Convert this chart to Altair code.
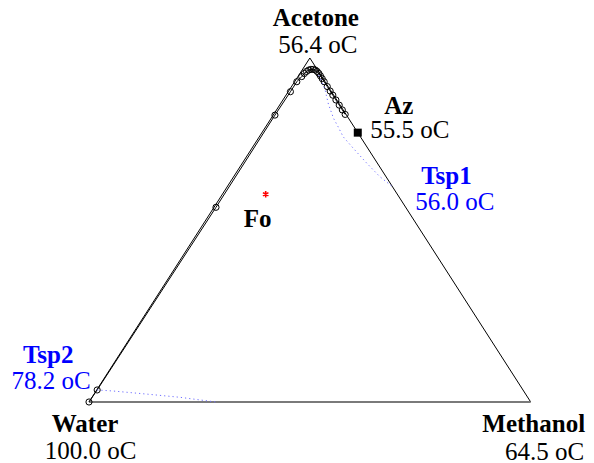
import altair as alt
import pandas as pd

# Pure components (ternary composition: xA = acetone, xM = methanol)
comp_names = ["Water", "Methanol", "Acetone"]
comp_temps = ["100.0 oC", "64.5 oC", "56.4 oC"]
comp_xA = [0.0, 0.0, 1.0]
comp_xM = [0.0, 1.0, 0.0]

# Residue curve points (circles)
rc_xA = [0.0, 0.035, 0.566, 0.834, 0.902, 0.931, 0.946, 0.955, 0.961, 0.965, 0.967,
         0.967, 0.965, 0.961, 0.955, 0.948, 0.940, 0.931, 0.917, 0.904, 0.892, 0.878,
         0.863, 0.849, 0.836]
rc_xM = [0.0, 0.001, 0.0045, 0.004, 0.005, 0.005, 0.0086, 0.010, 0.012, 0.015, 0.019,
         0.024, 0.030, 0.036, 0.043, 0.050, 0.058, 0.067, 0.081, 0.094, 0.106, 0.120,
         0.135, 0.149, 0.162]

# Dotted boundary 1 (towards Tsp1)
b1_xA = [0.950, 0.930, 0.910, 0.866, 0.825, 0.800, 0.771, 0.7375, 0.694, 0.655, 0.626]
b1_xM = [0.045, 0.062, 0.079, 0.109, 0.141, 0.164, 0.190, 0.2296, 0.282, 0.331, 0.374]

# Dotted boundary 2 (from Tsp2)
b2_xA = [0.035, 0.032, 0.023, 0.0137, 0.0]
b2_xM = [0.001, 0.038, 0.119, 0.199, 0.287]

# Special points
sp_names = ["Az", "Tsp1", "Tsp2", "Fo"]
sp_temps = ["55.5 oC", "56.0 oC", "78.2 oC", ""]
sp_xA = [0.783, 0.626, 0.035, 0.604]
sp_xM = [0.217, 0.374, 0.001, 0.098]

W, H = 578, 455
xscale = alt.Scale(domain=[-0.18338, 1.12520], nice=False, zero=False)
yscale = alt.Scale(domain=[-0.17733, 1.14535], nice=False, zero=False)
X = alt.X("xd:Q", scale=xscale, axis=None)
Y = alt.Y("xA:Q", scale=yscale, axis=None)


def base(df):
    return alt.Chart(df).transform_calculate(xd="datum.xM + datum.xA / 2")


def pt(xA, xM, **extra):
    d = {"xA": [xA], "xM": [xM]}
    for k, v in extra.items():
        d[k] = [v]
    return pd.DataFrame(d)


FONT = "Liberation Serif"
FS = 25

layers = []

# triangle edges
tri = pd.DataFrame({"xA": [comp_xA[0], comp_xA[2], comp_xA[1]],
                    "xM": [comp_xM[0], comp_xM[2], comp_xM[1]],
                    "i": [0, 1, 2]})
layers.append(base(tri).mark_line(color="black", strokeWidth=1).encode(x=X, y=Y, order="i:Q"))
bottom = pd.DataFrame({"xA": [comp_xA[0], comp_xA[1]], "xM": [comp_xM[0], comp_xM[1]], "i": [0, 1]})
layers.append(base(bottom).mark_line(color="#7a7a7a", strokeWidth=2).encode(x=X, y=Y, order="i:Q"))

# residue curve
rc = pd.DataFrame({"xA": rc_xA, "xM": rc_xM, "i": list(range(len(rc_xA)))})
layers.append(base(rc).mark_line(color="black", strokeWidth=1).encode(x=X, y=Y, order="i:Q"))
layers.append(base(rc).mark_point(shape="circle", filled=False, color="black", size=38,
                                  strokeWidth=1, opacity=1).encode(x=X, y=Y))

# dotted boundaries
b1 = pd.DataFrame({"xA": b1_xA, "xM": b1_xM, "i": list(range(len(b1_xA)))})
b2 = pd.DataFrame({"xA": b2_xA, "xM": b2_xM, "i": list(range(len(b2_xA)))})
for b in (b1, b2):
    layers.append(base(b).mark_line(color="#6f6fff", strokeWidth=1, strokeDash=[1.2, 3]).encode(
        x=X, y=Y, order="i:Q"))

# Az square
layers.append(base(pt(sp_xA[0], sp_xM[0])).mark_square(color="black", size=64, opacity=1).encode(x=X, y=Y))
# Fo asterisk
ast = "M0,-1L0,1M-0.87,-0.5L0.87,0.5M-0.87,0.5L0.87,-0.5"
layers.append(base(pt(sp_xA[3], sp_xM[3])).mark_point(shape=ast, filled=False, color="#ff0000", size=40,
                                                      strokeWidth=1.6, opacity=1).encode(x=X, y=Y))


def label(df, field, dx, dy, bold, color):
    return base(df).mark_text(font=FONT, fontSize=FS, fontWeight="bold" if bold else "normal",
                              color=color, align="center", baseline="alphabetic",
                              dx=dx, dy=dy).encode(x=X, y=Y, text=f"{field}:N")


offsets_comp = {
    "Water": ((-4, 30), (1.5, 57)),
    "Methanol": ((3, 30), (14, 58)),
    "Acetone": ((6, -32), (8, -5)),
}
for i, n in enumerate(comp_names):
    df = pt(comp_xA[i], comp_xM[i], name=n, temp=comp_temps[i])
    (ndx, ndy), (tdx, tdy) = offsets_comp[n]
    layers.append(label(df, "name", ndx, ndy, True, "black"))
    layers.append(label(df, "temp", tdx, tdy, False, "black"))

offsets_sp = {
    "Az": ((41, -19), (52, 5), "black"),
    "Tsp1": ((54, -3), (62.5, 23), "#0000ff"),
    "Tsp2": ((-49, -27), (-46, -1), "#0000ff"),
    "Fo": ((-8, 33), None, "black"),
}
for i, n in enumerate(sp_names):
    df = pt(sp_xA[i], sp_xM[i], name=n, temp=sp_temps[i])
    (ndx, ndy), toff, col = offsets_sp[n]
    layers.append(label(df, "name", ndx, ndy, True, col))
    if toff is not None:
        layers.append(label(df, "temp", toff[0], toff[1], False, col))

chart = alt.layer(*layers).properties(
    width=W, height=H, autosize=alt.AutoSizeParams(type="none"), padding=0
).configure_view(stroke=None)

chart.save("out.html", embed_options={"renderer": "svg", "actions": False})
